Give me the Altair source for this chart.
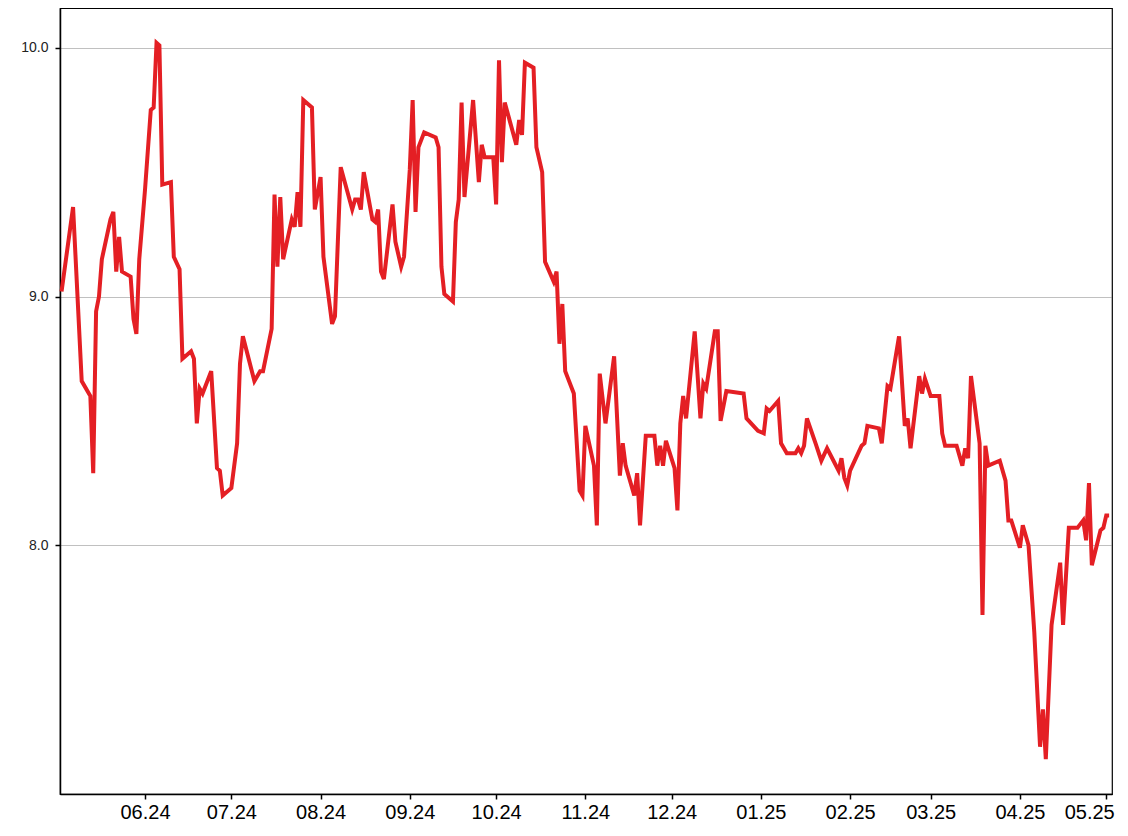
import altair as alt
import pandas as pd

dates = [
    "2024-05-03", "2024-05-07", "2024-05-10", "2024-05-13", "2024-05-14", "2024-05-15", "2024-05-16", "2024-05-17",
    "2024-05-20", "2024-05-21", "2024-05-22", "2024-05-23", "2024-05-24", "2024-05-27", "2024-05-28", "2024-05-29", "2024-05-30",
    "2024-06-01", "2024-06-03", "2024-06-04", "2024-06-05", "2024-06-06", "2024-06-07", "2024-06-10", "2024-06-11", "2024-06-13",
    "2024-06-14", "2024-06-17", "2024-06-18", "2024-06-19", "2024-06-20", "2024-06-21", "2024-06-24", "2024-06-26", "2024-06-27", "2024-06-28",
    "2024-07-01", "2024-07-03", "2024-07-04", "2024-07-05", "2024-07-09", "2024-07-11", "2024-07-12", "2024-07-15", "2024-07-16",
    "2024-07-17", "2024-07-18", "2024-07-19", "2024-07-22", "2024-07-23", "2024-07-24", "2024-07-25", "2024-07-26", "2024-07-29", "2024-07-30",
    "2024-08-01", "2024-08-02", "2024-08-05", "2024-08-06", "2024-08-08", "2024-08-12", "2024-08-13", "2024-08-14", "2024-08-15",
    "2024-08-16", "2024-08-19", "2024-08-20", "2024-08-21", "2024-08-22", "2024-08-23", "2024-08-26", "2024-08-27", "2024-08-29", "2024-08-30",
    "2024-09-01", "2024-09-02", "2024-09-03", "2024-09-04", "2024-09-06", "2024-09-10", "2024-09-11", "2024-09-12", "2024-09-13",
    "2024-09-16", "2024-09-17", "2024-09-18", "2024-09-19", "2024-09-20", "2024-09-23", "2024-09-25", "2024-09-26", "2024-09-27", "2024-09-30",
    "2024-10-01", "2024-10-02", "2024-10-03", "2024-10-04", "2024-10-08", "2024-10-09", "2024-10-10", "2024-10-11", "2024-10-14", "2024-10-15",
    "2024-10-17", "2024-10-18", "2024-10-21", "2024-10-22", "2024-10-23", "2024-10-24", "2024-10-25", "2024-10-28", "2024-10-30", "2024-10-31",
    "2024-11-01", "2024-11-04", "2024-11-05", "2024-11-06", "2024-11-08", "2024-11-11", "2024-11-13", "2024-11-14", "2024-11-15",
    "2024-11-18", "2024-11-19", "2024-11-20", "2024-11-22", "2024-11-25", "2024-11-26", "2024-11-27", "2024-11-28", "2024-11-29",
    "2024-12-02", "2024-12-03", "2024-12-04", "2024-12-05", "2024-12-06", "2024-12-09", "2024-12-11", "2024-12-12",
    "2024-12-13", "2024-12-16", "2024-12-17", "2024-12-18", "2024-12-20", "2024-12-26", "2024-12-27", "2024-12-31",
    "2025-01-02", "2025-01-03", "2025-01-04", "2025-01-07", "2025-01-08", "2025-01-09", "2025-01-10", "2025-01-13", "2025-01-14",
    "2025-01-15", "2025-01-16", "2025-01-17", "2025-01-20", "2025-01-22", "2025-01-24", "2025-01-28", "2025-01-29", "2025-01-30", "2025-01-31",
    "2025-02-01", "2025-02-03", "2025-02-05", "2025-02-06", "2025-02-07", "2025-02-11", "2025-02-12", "2025-02-14",
    "2025-02-15", "2025-02-18", "2025-02-20", "2025-02-21", "2025-02-22", "2025-02-25", "2025-02-26", "2025-02-27",
    "2025-03-01", "2025-03-04", "2025-03-05", "2025-03-06", "2025-03-10", "2025-03-12", "2025-03-13", "2025-03-14", "2025-03-15",
    "2025-03-18", "2025-03-19", "2025-03-20", "2025-03-21", "2025-03-25", "2025-03-27", "2025-03-28", "2025-03-29",
    "2025-04-01", "2025-04-02", "2025-04-03", "2025-04-04", "2025-04-06", "2025-04-08", "2025-04-09", "2025-04-10", "2025-04-12",
    "2025-04-15", "2025-04-16", "2025-04-18", "2025-04-21", "2025-04-23", "2025-04-24", "2025-04-25", "2025-04-26", "2025-04-29", "2025-04-30",
    "2025-05-01", "2025-05-02",
]

rates = [
    9.02, 9.36, 8.66, 8.60, 8.29, 8.94, 9.00, 9.15, 9.31, 9.34, 9.10, 9.24, 9.10, 9.08, 8.91, 8.85, 9.15,
    9.43, 9.75, 9.76, 10.02, 10.01, 9.45, 9.46, 9.16, 9.11, 8.75, 8.78, 8.75, 8.49, 8.63, 8.61, 8.70, 8.31, 8.30, 8.20,
    8.23, 8.41, 8.73, 8.84, 8.66, 8.70, 8.70, 8.87, 9.41, 9.12, 9.40, 9.15, 9.31, 9.28, 9.42, 9.28, 9.79, 9.76, 9.35,
    9.48, 9.16, 8.89, 8.92, 9.52, 9.35, 9.39, 9.39, 9.35, 9.50, 9.31, 9.30, 9.35, 9.10, 9.07, 9.37, 9.22, 9.12, 9.16,
    9.51, 9.79, 9.34, 9.60, 9.66, 9.64, 9.60, 9.12, 9.01, 8.98, 9.30, 9.39, 9.78, 9.40, 9.79, 9.46, 9.61, 9.56, 9.56,
    9.37, 9.95, 9.54, 9.78, 9.61, 9.71, 9.65, 9.94, 9.92, 9.60, 9.50, 9.14, 9.06, 9.10, 8.81, 8.97, 8.70, 8.61, 8.22, 8.20,
    8.48, 8.32, 8.08, 8.69, 8.49, 8.76, 8.28, 8.41, 8.32, 8.20, 8.29, 8.08, 8.44, 8.44, 8.32, 8.40, 8.32, 8.42,
    8.31, 8.14, 8.49, 8.60, 8.51, 8.86, 8.51, 8.65, 8.63, 8.86, 8.86, 8.50, 8.62, 8.61, 8.51, 8.46,
    8.45, 8.55, 8.54, 8.58, 8.41, 8.39, 8.37, 8.37, 8.39, 8.37, 8.40, 8.51, 8.41, 8.34, 8.39, 8.30, 8.35, 8.27, 8.24,
    8.30, 8.35, 8.40, 8.41, 8.48, 8.47, 8.41, 8.64, 8.63, 8.84, 8.48, 8.51, 8.39, 8.68, 8.61, 8.67,
    8.60, 8.60, 8.45, 8.40, 8.40, 8.32, 8.39, 8.35, 8.68, 8.41, 7.72, 8.40, 8.32, 8.34, 8.26, 8.10, 8.10,
    7.99, 8.08, 8.04, 8.00, 7.65, 7.19, 7.34, 7.14, 7.68, 7.93, 7.68, 8.07, 8.07, 8.10, 8.02, 8.25, 7.92, 8.06, 8.07,
    8.12, 8.12,
]

month_ticks = [(2024, m) for m in range(6, 13)] + [(2025, m) for m in range(1, 6)]
y_ticks = [8, 9, 10]

df = pd.DataFrame({"date": dates, "rate": rates})

FONT = "Liberation Sans"

x_axis = alt.Axis(
    values=[alt.DateTime(year=y, month=m, date=1, utc=True) for y, m in month_ticks],
    labelExpr="utcFormat(datum.value, '%m.%y')",
    title=None, grid=False, tickSize=5, tickColor="black", tickWidth=1.5,
    domainColor="black", domainWidth=1.5,
    labelFontSize=20, labelColor="black", labelFont=FONT, labelPadding=3,
    labelFlush=12, labelFlushOffset=8, labelOverlap=False,
)
y_axis = alt.Axis(
    values=y_ticks, format=".1f", title=None,
    grid=True, gridColor="#808080", gridDash=[1, 1], gridWidth=1,
    tickSize=5, tickColor="black", tickWidth=1.5,
    domainColor="black", domainWidth=1.5,
    labelFontSize=14, labelColor="#222222", labelFont=FONT, labelPadding=7,
    labelFlush=False,
)

chart = alt.Chart(df).mark_line(color="#e41f24", strokeWidth=4).encode(
    x=alt.X("date:T", axis=x_axis,
            scale=alt.Scale(type="utc", domain=[
                alt.DateTime(year=2024, month=5, date=2, hours=11, utc=True),
                alt.DateTime(year=2025, month=5, date=3, utc=True)])),
    y=alt.Y("rate:Q", axis=y_axis,
            scale=alt.Scale(domain=[7.0, 10.16], nice=False, zero=False)),
).properties(
    width=1052, height=786,
    padding={"left": 52, "top": 0, "right": 8, "bottom": 34},
    autosize="none",
).configure_view(stroke="black", strokeWidth=1.2)

chart.save("out.html", embed_options={"renderer": "svg", "actions": False})
